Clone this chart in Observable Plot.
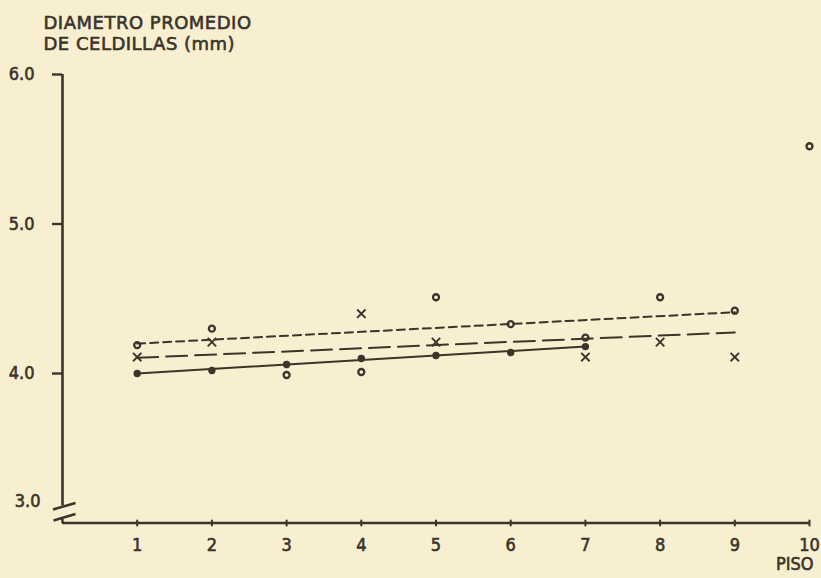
<!DOCTYPE html>
<html><head><meta charset="utf-8">
<script src="https://cdn.jsdelivr.net/npm/d3@7"></script>
<script src="https://cdn.jsdelivr.net/npm/@observablehq/plot@0.6"></script>
<style>
html,body{margin:0;padding:0;background:#f8efd0;}
</style></head><body><div id="chart"></div>
<script>
// ---- data ----
const pisos = [1,2,3,4,5,6,7,8,9,10];
const yTicks = [4,5,6];
const yBreakLabel = "3.0";
const titleLines = ["DIAMETRO PROMEDIO","DE CELDILLAS (mm)"];
const xLabel = "PISO";

// filled dots (solid regression)
const dotX = [1,2,3,4,5,6,7];
const dotY = [4.00,4.02,4.06,4.10,4.12,4.14,4.18];
// open circles (short-dashed regression)
const circX = [1,2,3,4,5,6,7,8,9,10];
const circY = [4.19,4.30,3.99,4.01,4.51,4.33,4.24,4.51,4.42,5.52];
// crosses (long-dashed regression)
const crossX = [1,2,4,5,7,8,9];
const crossY = [4.11,4.21,4.40,4.21,4.11,4.21,4.11];
// fitted lines (end points)
const fitSolidX = [1,7], fitSolidY = [4.00,4.18];
const fitShortX = [1,9], fitShortY = [4.20,4.41];
const fitLongX  = [1,9], fitLongY  = [4.105,4.275];

const ink = "#3b342a";
const zip = (xs, ys) => xs.map((x,i) => ({x, y: ys[i]}));

const vTick = {draw(ctx, size){ const r = Math.sqrt(size/Math.PI); ctx.moveTo(0,-r); ctx.lineTo(0,r); }};
const breakSym = {draw(ctx){
  ctx.moveTo(-9.5,-13.5); ctx.lineTo(13,-20);
  ctx.moveTo(-9,-2.5); ctx.lineTo(13,-9);
  ctx.moveTo(0,-5.2); ctx.lineTo(0,0);
}};

const svg = Plot.plot({
  width: 821, height: 578,
  marginLeft: 62, marginRight: 12, marginTop: 74, marginBottom: 55.5,
  x: {domain: [0,10], axis: null},
  y: {domain: [3,6], axis: null},
  style: {background: "transparent", color: ink, fontFamily: "'DejaVu Sans Condensed','DejaVu Sans',sans-serif", fontSize: "18px", overflow: "visible"},
  marks: [
    Plot.ruleX([0], {y1: 6, y2: 3, insetBottom: 17, stroke: ink, strokeWidth: 2.6}),
    Plot.ruleY([3], {stroke: ink, strokeWidth: 2.6}),
    Plot.dotX([0], {frameAnchor: "bottom", symbol: breakSym, stroke: ink, fill: "none", strokeWidth: 2.4}),
    Plot.axisY(yTicks, {tickSize: 10, tickPadding: 18, tickFormat: d3.format(".1f"), stroke: ink, strokeWidth: 2.4, label: null}),
    Plot.text([yBreakLabel], {frameAnchor: "bottom-left", textAnchor: "end", dx: -22, dy: -16.5, fill: ink}),
    Plot.axisX(pisos, {tickSize: 0, tickPadding: 15, tickFormat: d => String(d), label: null}),
    Plot.dotX(pisos, {frameAnchor: "bottom", symbol: vTick, r: 3.3, stroke: ink, fill: "none", strokeWidth: 2}),
    Plot.text([xLabel], {frameAnchor: "bottom-right", textAnchor: "end", dx: 4, dy: 47, fill: ink}),
    Plot.text([titleLines.join("\n")], {frameAnchor: "top-left", textAnchor: "start", lineAnchor: "top", dx: -19, dy: -60, lineHeight: 1.16, fontFamily: "'DejaVu Sans',sans-serif", fill: ink}),
    Plot.line(zip(fitSolidX, fitSolidY), {x: "x", y: "y", stroke: ink, strokeWidth: 2}),
    Plot.line(zip(fitShortX, fitShortY), {x: "x", y: "y", stroke: ink, strokeWidth: 2, strokeDasharray: "8,5"}),
    Plot.line(zip(fitLongX, fitLongY), {x: "x", y: "y", stroke: ink, strokeWidth: 2, strokeDasharray: "21,8"}),
    Plot.dot(zip(dotX, dotY), {x: "x", y: "y", r: 3.7, fill: ink, stroke: "none"}),
    Plot.dot(zip(circX, circY), {x: "x", y: "y", r: 3, fill: "none", stroke: ink, strokeWidth: 2.3}),
    Plot.dot(zip(crossX, crossY), {x: "x", y: "y", symbol: "times", r: 3.9, stroke: ink, strokeWidth: 1.9})
  ]
});
const sel = d3.select(svg);
sel.selectAll("text").attr("stroke", ink).attr("stroke-width", 0.6);
sel.selectAll("text").filter(function(){ return this.textContent.startsWith("DIAMETRO"); }).attr("letter-spacing", "0.5px");
document.getElementById("chart").appendChild(svg);
</script>
</body></html>
